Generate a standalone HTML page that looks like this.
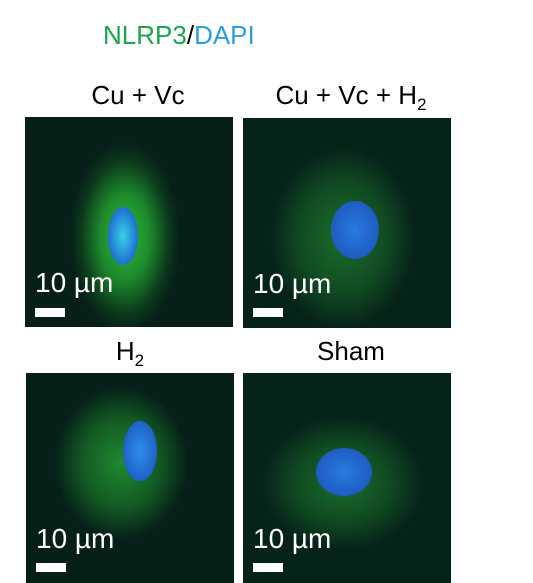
<!DOCTYPE html>
<html><head><meta charset="utf-8"><style>
body{margin:0;width:533px;height:583px;background:#fff;position:relative;overflow:hidden;font-family:"Liberation Sans",sans-serif}
.t{position:absolute;font-size:26px;color:#000;text-align:center;width:208px}
.p{position:absolute;width:208px;overflow:hidden;background:#041a12}
.n{position:absolute;border-radius:50%}
.s{position:absolute;left:10px;color:#fff;font-size:28px}
.b{position:absolute;left:10px;width:30px;height:9px;background:#fff}
</style></head><body>
<div style="position:absolute;left:103px;top:20px;font-size:26px"><span style="color:#1aa54a">NLRP3</span>/<span style="color:#2a9fe0">DAPI</span></div>
<div class="t" style="left:34px;top:80px">Cu + Vc</div>
<div class="t" style="left:246px;top:80px;width:210px">Cu + Vc + H<sub style="font-size:17px">2</sub></div>
<div class="t" style="left:26px;top:336px">H<sub style="font-size:17px">2</sub></div>
<div class="t" style="left:247px;top:336px">Sham</div>

<div class="p" style="left:25px;top:117px;height:210px;background:radial-gradient(ellipse 55px 95px at 100px 120px,#2fb83a 0%,#1d8a2c 45%,#0c3a1c 80%,#062019 100%)">
<div class="n" style="left:83px;top:90px;width:30px;height:58px;background:radial-gradient(#3ad0e8,#1f6fd0 70%,#1d5fb0)"></div>
<div class="s" style="top:150px">10 µm</div>
<div class="b" style="top:191px"></div></div>

<div class="p" style="left:243px;top:118px;height:210px;background:radial-gradient(ellipse 80px 100px at 100px 120px,#1a6e2a 0%,#114a22 55%,#06231a 90%)">
<div class="n" style="left:88px;top:83px;width:48px;height:58px;background:radial-gradient(#2a7ae0,#1e5cc0 70%,#1a4c9a)"></div>
<div class="s" style="top:150px">10 µm</div>
<div class="b" style="top:190px"></div></div>

<div class="p" style="left:26px;top:373px;height:210px;background:radial-gradient(ellipse 70px 80px at 95px 90px,#1f8a2e 0%,#135a24 55%,#062019 95%)">
<div class="n" style="left:97px;top:48px;width:34px;height:60px;background:radial-gradient(#2f8ee8,#1e62c8 70%,#1a50a0)"></div>
<div class="s" style="top:150px">10 µm</div>
<div class="b" style="top:190px"></div></div>

<div class="p" style="left:243px;top:373px;height:210px;background:radial-gradient(ellipse 85px 70px at 100px 110px,#1a6e2a 0%,#114a22 55%,#06231a 95%)">
<div class="n" style="left:73px;top:75px;width:56px;height:48px;background:radial-gradient(#2a7ae0,#1e5cc0 70%,#1a4c9a)"></div>
<div class="s" style="top:150px">10 µm</div>
<div class="b" style="top:190px"></div></div>
</body></html>
